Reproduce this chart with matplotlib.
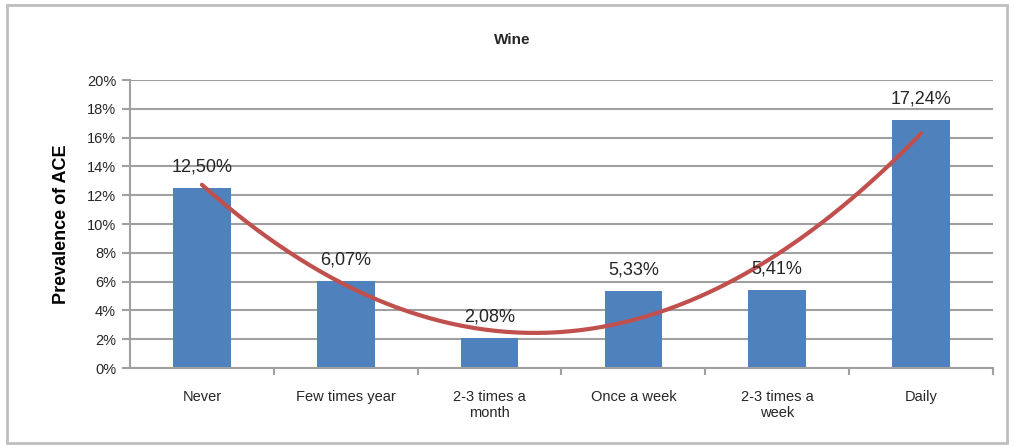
import numpy as np
import matplotlib.pyplot as plt
from matplotlib.patches import Rectangle

# Data
categories = ['Never', 'Few times year', '2-3 times a\nmonth', 'Once a week', '2-3 times a\nweek', 'Daily']
values = [12.50, 6.07, 2.08, 5.33, 5.41, 17.24]
value_labels = ['12,50%', '6,07%', '2,08%', '5,33%', '5,41%', '17,24%']
y_ticks = [0, 2, 4, 6, 8, 10, 12, 14, 16, 18, 20]

bar_color = '#4F81BD'
trend_color = '#C0504D'
grid_color = '#A0A0A0'
text_color = '#262626'

plt.rcParams['font.family'] = ['Liberation Sans', 'DejaVu Sans']

fig = plt.figure(figsize=(10.14, 4.48), dpi=100)
ax = fig.add_axes([130 / 1014, 1 - 368 / 448, 863 / 1014, 288 / 448])

x = np.arange(len(categories))
ax.bar(x, values, width=0.4, color=bar_color, zorder=2)

# polynomial (order 2) trendline like Excel
coef = np.polyfit(x, values, 2)
xs = np.linspace(x[0], x[-1], 200)
ax.plot(xs, np.polyval(coef, xs), color=trend_color, lw=3, zorder=3, solid_capstyle='round')

for xi, v, lab in zip(x, values, value_labels):
    ax.annotate(lab, (xi, v), xytext=(0, 9), textcoords='offset points',
                ha='center', va='bottom', fontsize=13, color=text_color, zorder=4)

ax.set_xlim(-0.5, len(categories) - 0.5)
ax.set_ylim(0, 20)
ax.set_yticks(y_ticks)
ax.set_yticklabels([f'{t}%' for t in y_ticks], fontsize=10.5, color=text_color)
ax.yaxis.grid(True, color=grid_color, lw=1.5, zorder=0)
ax.set_axisbelow(True)

ax.set_xticks(x)
ax.set_xticklabels(categories, fontsize=10.5, color=text_color)
ax.tick_params(axis='x', length=0, pad=16)
ax.set_xticks(np.arange(0.5, len(categories), 1), minor=True)
ax.tick_params(axis='x', which='minor', length=5, width=1.5, color=grid_color)
ax.tick_params(axis='y', length=6, width=1.5, color=grid_color, pad=4)

for side in ['top', 'right']:
    ax.spines[side].set_visible(False)
for side in ['left', 'bottom']:
    ax.spines[side].set_color(grid_color)
    ax.spines[side].set_linewidth(1.5)

ax.set_ylabel('Prevalence of ACE', fontsize=13, fontweight='bold', color='black', labelpad=12)
fig.text(0.505, 1 - 40 / 448, 'Wine', ha='center', va='center', fontsize=11, fontweight='bold', color=text_color)

# outer chart border
fig.patches.append(Rectangle((7 / 1014, 5 / 448), 1000 / 1014, 438 / 448, transform=fig.transFigure,
                             fill=False, edgecolor='#BFBFBF', lw=2))

fig.savefig('out.png', dpi=100)
